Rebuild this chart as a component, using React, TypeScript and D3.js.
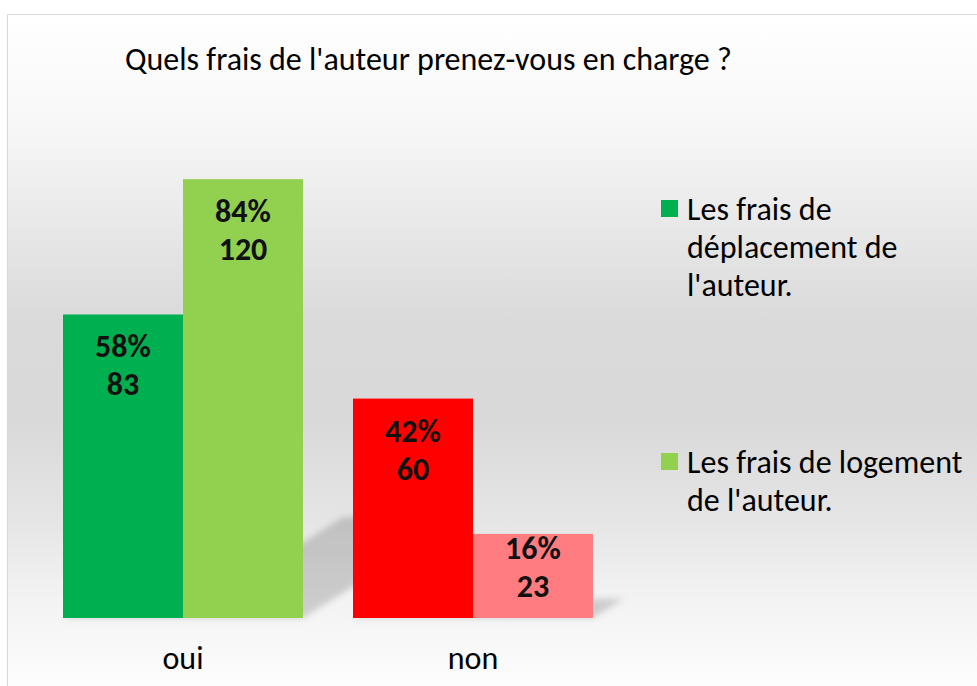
import React from "react";
import * as d3 from "d3";

const title = "Quels frais de l'auteur prenez-vous en charge ?";
const categories = ["oui", "non"];
const seriesKeys = ["deplacement", "logement"];
const seriesLegendLines = [
  ["Les frais de", "déplacement de", "l'auteur."],
  ["Les frais de logement", "de l'auteur."],
];
const deplacementCounts = [83, 60];
const logementCounts = [120, 23];
const deplacementPercents = ["58%", "42%"];
const logementPercents = ["84%", "16%"];
const deplacementColors = ["#00b050", "#ff0000"];
const logementColors = ["#92d050", "#ff7c80"];
const legendColors = ["#00b050", "#92d050"];
const yMax = 140;

const W = 977;
const H = 686;
const FONT = "Carlito, Calibri, Lato, sans-serif";

export default function App() {
  const baseY = 618;
  const x = d3
    .scaleBand<string>()
    .domain(categories)
    .range([38, 618])
    .paddingInner(50 / 290)
    .paddingOuter(25 / 290);
  const xi = d3.scaleBand<string>().domain(seriesKeys).range([0, x.bandwidth()]);
  const y = d3.scaleLinear().domain([0, yMax]).range([baseY, baseY - 3.657 * yMax]);

  const counts = [deplacementCounts, logementCounts];
  const percents = [deplacementPercents, logementPercents];
  const colors = [deplacementColors, logementColors];

  const bars: any[] = [];
  seriesKeys.forEach((k, si) => {
    categories.forEach((c, ci) => {
      const v = counts[si][ci];
      const x0 = (x(c) as number) + (xi(k) as number);
      bars.push({
        key: k + c,
        x0,
        x1: x0 + xi.bandwidth(),
        top: y(v),
        h: baseY - y(v),
        color: colors[si][ci],
        pct: percents[si][ci],
        count: v,
      });
    });
  });

  return (
    <svg
      width={W}
      height={H}
      style={{ position: "absolute", left: 0, top: 0, display: "block" }}
    >
      <defs>
        <linearGradient id="bg" gradientUnits="userSpaceOnUse" x1={0} y1={14} x2={0} y2={686}>
          <stop offset={0} stopColor="#ffffff" />
          <stop offset={(120 - 14) / 672} stopColor="#f8f8f8" />
          <stop offset={(200 - 14) / 672} stopColor="#ececec" />
          <stop offset={(320 - 14) / 672} stopColor="#dadada" />
          <stop offset={(420 - 14) / 672} stopColor="#d9d9d9" />
          <stop offset={(520 - 14) / 672} stopColor="#e5e5e5" />
          <stop offset={(600 - 14) / 672} stopColor="#f3f3f3" />
          <stop offset={1} stopColor="#fdfdfd" />
        </linearGradient>
        <filter id="blur" x="-20%" y="-20%" width="140%" height="140%">
          <feGaussianBlur stdDeviation={3} />
        </filter>
      </defs>
      <rect x={0} y={0} width={W} height={H} fill="#ffffff" />
      <rect x={7.5} y={14.5} width={W + 10} height={H + 10} fill="url(#bg)" stroke="#d9d9d9" strokeWidth={1} />

      <text x={125} y={70} fontFamily={FONT} fontSize={32} fill="#000">
        {title}
      </text>

      <g filter="url(#blur)">
        {bars.map((b) => {
          const dx = 0.365 * b.h;
          const dy = 0.23 * b.h;
          const pts = [
            [b.x0, baseY],
            [b.x1, baseY],
            [b.x1 + dx, baseY - dy],
            [b.x0 + dx, baseY - dy],
          ];
          return (
            <polygon
              key={"s" + b.key}
              points={pts.map((p) => p.join(",")).join(" ")}
              fill="#000"
              fillOpacity={0.16}
            />
          );
        })}
      </g>

      {bars.map((b) => (
        <rect key={b.key} x={b.x0} y={b.top} width={b.x1 - b.x0} height={b.h} fill={b.color} />
      ))}

      {bars.map((b) => {
        let l2 = b.top + 81;
        if (l2 > baseY - 21) l2 = baseY - 21;
        const l1 = l2 - 38;
        const cx = (b.x0 + b.x1) / 2;
        return (
          <g key={"l" + b.key} fontFamily={FONT} fontWeight="bold" fontSize={32} fill="#111" textAnchor="middle">
            <text x={cx} y={l1}>{b.pct}</text>
            <text x={cx} y={l2}>{b.count}</text>
          </g>
        );
      })}

      {categories.map((c) => (
        <text
          key={"c" + c}
          x={(x(c) as number) + x.bandwidth() / 2}
          y={669}
          textAnchor="middle"
          fontFamily={FONT}
          fontSize={32}
          fill="#000"
        >
          {c}
        </text>
      ))}

      {seriesLegendLines.map((lines, i) => {
        const top = i === 0 ? 200 : 453;
        return (
          <g key={"lg" + i}>
            <rect x={661} y={top} width={17} height={17} fill={legendColors[i]} />
            {lines.map((t, j) => (
              <text key={j} x={687} y={top + 20 + j * 38} fontFamily={FONT} fontSize={32} fill="#000">
                {t}
              </text>
            ))}
          </g>
        );
      })}
    </svg>
  );
}
